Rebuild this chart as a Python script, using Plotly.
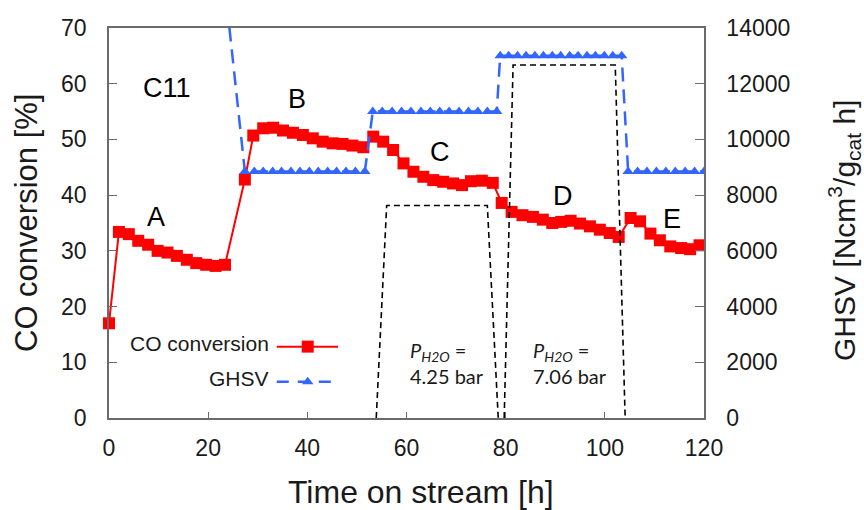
import plotly.graph_objects as go

# ---- CO conversion [%] vs. time on stream [h] ----
time_co = [0.0, 2.0, 4.0, 5.9, 7.9, 9.8, 11.8, 13.7, 15.7, 17.6, 19.6, 21.5, 23.4,
           27.4, 29.1, 31.1, 33.1, 35.1, 37.1, 39.1, 41.1, 43.1, 45.1, 47.1, 49.1, 51.3,
           53.3, 55.3, 57.3, 59.4, 61.4, 63.4, 65.4, 67.4, 69.4, 71.2, 73.0, 75.2, 77.4,
           79.2, 81.2, 83.4, 85.5, 87.5, 89.4, 91.2, 93.1, 95.0, 97.0, 99.0, 101.0, 102.8,
           105.2, 107.1, 109.2, 111.1, 113.2, 115.4, 117.2, 119.1]
co_conversion = [17.0, 33.4, 33.0, 31.8, 31.1, 30.0, 29.7, 29.1, 28.4, 27.8, 27.5, 27.3, 27.5,
                 42.8, 50.7, 52.0, 52.1, 51.6, 51.2, 50.8, 50.2, 49.6, 49.3, 49.2, 48.9, 48.6,
                 50.5, 49.6, 48.1, 45.7, 44.2, 43.3, 42.7, 42.4, 42.1, 41.8, 42.5, 42.6, 42.2,
                 38.6, 37.0, 36.4, 36.1, 35.6, 35.0, 35.2, 35.4, 34.9, 34.4, 33.8, 33.2, 32.5,
                 35.9, 35.3, 33.1, 31.9, 30.8, 30.5, 30.3, 31.0]

# ---- GHSV [Ncm3/(g_cat h)] vs. time on stream [h] ----
time_ghsv = [23.8,
             27.4, 29.3, 31.1, 33.0, 34.8, 36.7, 38.5, 40.4, 42.2, 44.1, 45.9, 47.8, 49.7, 51.6,
             53.2, 55.1, 57.1, 59.0, 60.9, 62.9, 64.8, 66.7, 68.6, 70.6, 72.5, 74.4, 76.3, 78.2,
             78.9, 80.6, 82.4, 84.1, 85.9, 87.6, 89.4, 91.1, 92.9, 94.6, 96.4, 98.1, 99.9, 101.6, 103.4,
             104.7, 106.6, 108.5, 110.4, 112.3, 114.2, 116.2, 118.1, 120.0]
ghsv = [14800,
        8850, 8850, 8850, 8850, 8850, 8850, 8850, 8850, 8850, 8850, 8850, 8850, 8850, 8850,
        11000, 11000, 11000, 11000, 11000, 11000, 11000, 11000, 11000, 11000, 11000, 11000, 11000, 11000,
        13000, 13000, 13000, 13000, 13000, 13000, 13000, 13000, 13000, 13000, 13000, 13000, 13000, 13000, 13000,
        8850, 8850, 8850, 8850, 8850, 8850, 8850, 8850, 8850]

# ---- water co-feed windows: partial pressure of H2O [bar] ----
h2o_window_times = [[53.9, 56.0, 76.3, 78.5],
                    [79.7, 81.5, 102.1, 104.1]]
p_h2o = [4.25, 7.06]

# period labels
period_names = ["A", "B", "C", "D", "E"]
period_time = [9.5, 38.0, 66.8, 91.6, 113.5]
period_conv = [36.1, 57.3, 47.8, 39.9, 35.8]

RED = "#ff0000"
BLUE = "#3366ff"
AXIS = "#6b6b6b"
TXT = "#1a1a1a"
ARIAL = "Liberation Sans, Arial, sans-serif"
CALIBRI = "Lato, Carlito, Calibri, sans-serif"
GHSV_DASH = "14px,8px"

fig = go.Figure()

fig.add_trace(go.Scatter(
    x=time_co, y=co_conversion, mode="lines+markers", name="CO conversion",
    line=dict(color=RED, width=2),
    marker=dict(symbol="square", size=12, color=RED),
    cliponaxis=False, showlegend=False))

fig.add_trace(go.Scatter(
    x=time_ghsv, y=ghsv, yaxis="y2", mode="lines+markers", name="GHSV",
    line=dict(color=BLUE, width=2.5, dash=GHSV_DASH),
    marker=dict(symbol="triangle-up", size=10, color=BLUE),
    showlegend=False))

for times, p in zip(h2o_window_times, p_h2o):
    fig.add_trace(go.Scatter(
        x=times, y=[0, p, p, 0], yaxis="y3", mode="lines",
        line=dict(color="black", width=1.6, dash="6px,4px"),
        hoverinfo="skip", showlegend=False))

# hand-built legend (text sits left of the key)
legend_rows = [("CO conversion", RED, "square", 12, "solid", 2, 0.183),
               ("GHSV", BLUE, "triangle-up", 10, "12px,9px", 2.5, 0.093)]
for name, col, sym, msize, dash, lw, ypos in legend_rows:
    fig.add_trace(go.Scatter(
        x=[0.282, 0.385], y=[ypos, ypos], xaxis="x2", yaxis="y4", mode="lines",
        line=dict(color=col, width=lw, dash=dash), hoverinfo="skip", showlegend=False))
    fig.add_trace(go.Scatter(
        x=[0.334], y=[ypos], xaxis="x2", yaxis="y4", mode="markers",
        marker=dict(symbol=sym, size=msize, color=col), hoverinfo="skip", showlegend=False))
    fig.add_annotation(text=name, xref="x domain", yref="y domain", x=0.273, y=ypos + 0.008,
                       xanchor="right", yanchor="middle", showarrow=False,
                       font=dict(family=ARIAL, size=21, color=TXT))

for name, t, v in zip(period_names, period_time, period_conv):
    fig.add_annotation(text=name, x=t, y=v, showarrow=False,
                       font=dict(family=ARIAL, size=27, color="black"))
fig.add_annotation(text="C11", x=11.7, y=59.2, showarrow=False,
                   font=dict(family=ARIAL, size=27, color="black"))

for times, p, t_label in zip(h2o_window_times, p_h2o, [60.3, 85.2]):
    fig.add_annotation(text="<i>P</i><sub><i>H2O</i></sub> =", x=t_label, y=12.0,
                       xanchor="left", yanchor="middle", showarrow=False,
                       font=dict(family=CALIBRI, size=20, color=TXT))
    fig.add_annotation(text=f"{p:.2f} bar", x=t_label, y=7.6,
                       xanchor="left", yanchor="middle", showarrow=False,
                       font=dict(family=CALIBRI, size=20, color=TXT))

# axis titles
fig.add_annotation(text="CO conversion [%]", xref="paper", yref="paper", x=0, y=0.5,
                   xanchor="center", yanchor="middle", xshift=-83, textangle=-90,
                   showarrow=False, font=dict(family=ARIAL, size=31, color=TXT))
fig.add_annotation(text="GHSV [Ncm<sup>3</sup>/g<sub>cat</sub> h]", xref="paper", yref="paper",
                   x=1, y=0.5, xanchor="center", yanchor="middle", xshift=140, yshift=-8,
                   textangle=-90, showarrow=False, font=dict(family=ARIAL, size=30, color=TXT))
fig.add_annotation(text="Time on stream [h]", xref="paper", yref="paper", x=0.5, y=0,
                   xanchor="center", yanchor="middle", xshift=14, yshift=-74,
                   showarrow=False, font=dict(family=ARIAL, size=32, color=TXT))

tickfont = dict(family=ARIAL, size=23, color=TXT)
fig.update_layout(
    width=864, height=510,
    margin=dict(l=109, r=160, t=28, b=92, pad=0),
    paper_bgcolor="white", plot_bgcolor="white",
    xaxis=dict(range=[0, 120], tickvals=[0, 20, 40, 60, 80, 100, 120], ticks="inside",
               ticklen=6, tickcolor=AXIS, showline=True, linecolor=AXIS, linewidth=1.5,
               mirror=True, showgrid=False, zeroline=False, tickfont=tickfont,
               ticklabelstandoff=9),
    yaxis=dict(range=[0, 70], tickvals=[0, 10, 20, 30, 40, 50, 60, 70], ticks="inside",
               ticklen=8, tickcolor=AXIS, showline=True, linecolor=AXIS, linewidth=1.5,
               showgrid=False, zeroline=False, tickfont=tickfont, ticklabelstandoff=16),
    yaxis2=dict(range=[0, 14000], tickvals=[0, 2000, 4000, 6000, 8000, 10000, 12000, 14000],
                tickformat="d", overlaying="y", side="right", ticks="inside", ticklen=9,
                tickcolor=AXIS, showline=True, linecolor=AXIS, linewidth=1.5, showgrid=False,
                zeroline=False, tickfont=tickfont, ticklabelstandoff=16),
    yaxis3=dict(range=[0, 7.8], overlaying="y", visible=False),
    xaxis2=dict(range=[0, 1], overlaying="x", visible=False),
    yaxis4=dict(range=[0, 1], overlaying="y", anchor="x2", visible=False),
    showlegend=False,
)

fig.write_html("out.html")
